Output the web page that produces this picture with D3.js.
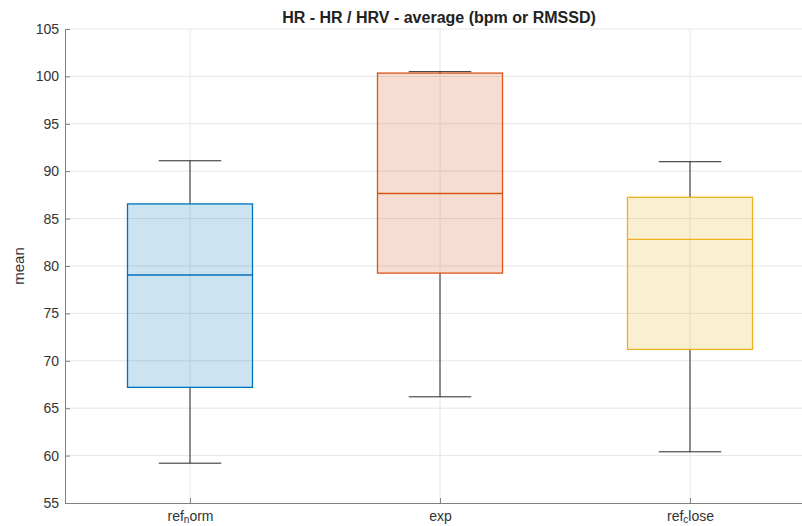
<!DOCTYPE html>
<html>
<head>
<meta charset="utf-8">
<script src="https://cdn.jsdelivr.net/npm/d3@7"></script>
<style>
  body { margin: 0; background: #fff; }
  svg { display: block; font-family: "Liberation Sans", Arial, Helvetica, sans-serif; }
</style>
</head>
<body>
<div id="chart"></div>
<script>

// categories: base text + subscript char + rest (TeX style labels)
const categories = ["ref_norm", "exp", "ref_close"];
const labelParts = [["ref", "n", "orm"], ["exp", "", ""], ["ref", "c", "lose"]];

// box statistics
const whiskerLow  = [59.2, 66.2, 60.4];
const q1          = [67.2, 79.25, 71.2];
const median      = [79.05, 87.65, 82.8];
const q3          = [86.55, 100.35, 87.25];
const whiskerHigh = [91.1, 100.5, 91.0];

const yTicks = [55, 60, 65, 70, 75, 80, 85, 90, 95, 100, 105];
const colors = ["#0072BD", "#D95319", "#EDB120"];

const margin = { top: 29, right: -13, bottom: 23, left: 65 };
const W = 802, H = 526;
const width = W - margin.left - margin.right;
const height = H - margin.top - margin.bottom;

const svg = d3.select("#chart").append("svg")
  .attr("width", W)
  .attr("height", H);

const g = svg.append("g")
  .attr("transform", "translate(" + margin.left + "," + margin.top + ")");

const x = d3.scaleLinear().domain([0.5, 3.5]).range([0, width]);
const y = d3.scaleLinear().domain([55, 105]).range([height, 0]);

// grid
g.append("g").attr("class", "grid")
  .selectAll("line.h").data(yTicks.slice(1)).join("line")
  .attr("x1", 0).attr("x2", width)
  .attr("y1", d => y(d)).attr("y2", d => y(d))
  .attr("stroke", "#e6e6e6").attr("stroke-width", 1);

g.append("g").attr("class", "grid")
  .selectAll("line.v").data(categories).join("line")
  .attr("x1", (d, i) => x(i + 1)).attr("x2", (d, i) => x(i + 1))
  .attr("y1", 0).attr("y2", height)
  .attr("stroke", "#e6e6e6").attr("stroke-width", 1);

const boxW = 0.5;

categories.forEach((c, i) => {
  const cx = x(i + 1);
  const half = (x(1 + boxW / 2) - x(1));
  const b = g.append("g").attr("class", "box box" + i);

  // whiskers
  b.append("line")
    .attr("x1", cx).attr("x2", cx)
    .attr("y1", y(q3[i])).attr("y2", y(whiskerHigh[i]))
    .attr("stroke", "#262626").attr("stroke-width", 1);
  b.append("line")
    .attr("x1", cx).attr("x2", cx)
    .attr("y1", y(q1[i])).attr("y2", y(whiskerLow[i]))
    .attr("stroke", "#262626").attr("stroke-width", 1);
  [whiskerHigh[i], whiskerLow[i]].forEach(v => {
    b.append("line")
      .attr("x1", cx - half / 2).attr("x2", cx + half / 2)
      .attr("y1", y(v)).attr("y2", y(v))
      .attr("stroke", "#262626").attr("stroke-width", 1);
  });

  // box
  b.append("rect")
    .attr("x", cx - half).attr("width", 2 * half)
    .attr("y", y(q3[i])).attr("height", y(q1[i]) - y(q3[i]))
    .attr("fill", colors[i]).attr("fill-opacity", 0.2)
    .attr("stroke", colors[i]).attr("stroke-width", 1.3);

  // median
  b.append("line")
    .attr("x1", cx - half).attr("x2", cx + half)
    .attr("y1", y(median[i])).attr("y2", y(median[i]))
    .attr("stroke", colors[i]).attr("stroke-width", 1.3);
});

// y axis
const yAxis = g.append("g")
  .call(d3.axisLeft(y).tickValues(yTicks).tickSizeInner(-5).tickSizeOuter(0).tickPadding(6));
yAxis.select(".domain").attr("stroke", "#808080");
yAxis.selectAll(".tick line").attr("stroke", "#808080");
yAxis.selectAll("text").attr("fill", "#333").style("font-size", "14px");

// x axis
const xAxis = g.append("g")
  .attr("transform", "translate(0," + height + ")")
  .call(d3.axisBottom(x).tickValues([1, 2, 3]).tickSizeInner(-5).tickSizeOuter(0).tickFormat(""));
xAxis.select(".domain").attr("stroke", "#808080");
xAxis.selectAll(".tick line").attr("stroke", "#808080");

const xl = xAxis.selectAll(".tick").append("text")
  .attr("y", 18)
  .attr("text-anchor", "middle")
  .attr("fill", "#333")
  .style("font-size", "14px");
xl.each(function(d, i) {
  const t = d3.select(this);
  const p = labelParts[i];
  t.append("tspan").text(p[0]);
  if (p[1]) {
    t.append("tspan").attr("dy", 2).style("font-size", "10px").text(p[1]);
    t.append("tspan").attr("dy", -2).text(p[2]);
  }
});

// title
svg.append("text")
  .attr("x", 439).attr("y", 23)
  .attr("text-anchor", "middle")
  .attr("font-weight", "bold")
  .attr("fill", "#222")
  .style("font-size", "16px")
  .text("HR - HR / HRV - average (bpm or RMSSD)");

// y label
svg.append("text")
  .attr("transform", "translate(24," + (margin.top + height / 2) + ") rotate(-90)")
  .attr("text-anchor", "middle")
  .attr("fill", "#333")
  .style("font-size", "15px")
  .text("mean");

</script>
</body>
</html>
